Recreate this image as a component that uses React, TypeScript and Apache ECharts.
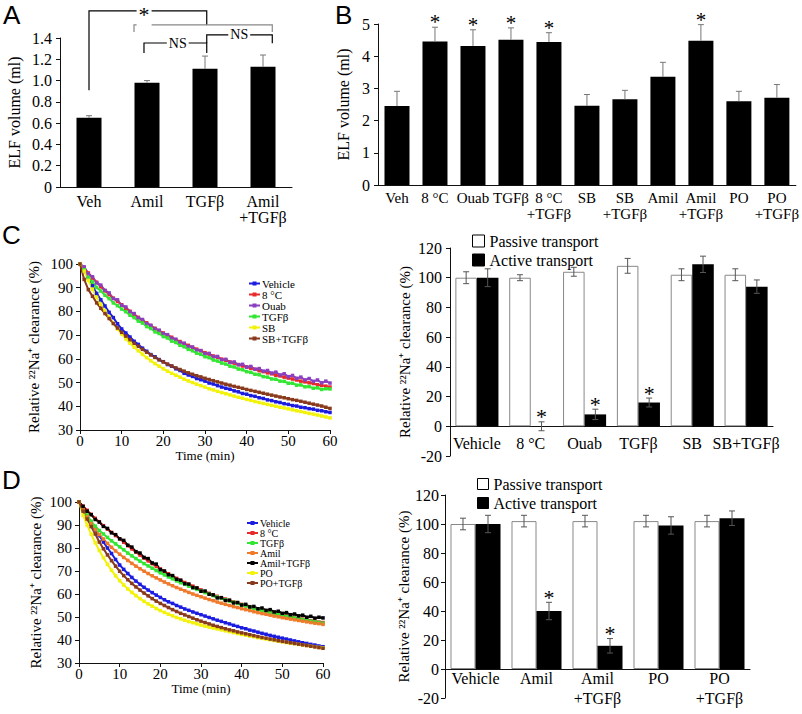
import React, { useEffect, useRef } from 'react';
import * as echarts from 'echarts';

const SERIF = 'Liberation Serif, Times New Roman, serif';
const SANS = 'Liberation Sans, Arial, sans-serif';

// ---------- Panel A ----------
const aCats = ['Veh', 'Amil', 'TGFβ', 'Amil\n+TGFβ'];
const aVals = [0.65, 0.98, 1.11, 1.13];
const aErr = [0.02, 0.02, 0.12, 0.11];
// significance brackets: x in category-index units, y in ml
const aBrackets = [
  { x1: 0, x2: 2.03, y: 1.654, l: 0.91, r: 1.523, label: '*', lx: 0.95, color: '#000' },
  { x1: 0.776, x2: 3.16, y: 1.523, l: 1.457, r: 1.457, label: '', lx: 0, color: '#888' },
  { x1: 0.948, x2: 2.03, y: 1.353, l: 1.26, r: 1.26, label: 'NS', lx: 1.53, color: '#000' },
  { x1: 2.03, x2: 3.16, y: 1.429, l: 1.353, r: 1.35, label: 'NS', lx: 2.59, color: '#000' },
];

// ---------- Panel B ----------
const bCats = ['Veh', '8 °C', 'Ouab', 'TGFβ', '8 °C\n+TGFβ', 'SB', 'SB\n+TGFβ', 'Amil', 'Amil\n+TGFβ', 'PO', 'PO\n+TGFβ'];
const bVals = [2.45, 4.46, 4.32, 4.51, 4.44, 2.46, 2.66, 3.36, 4.48, 2.6, 2.71];
const bErr = [0.46, 0.44, 0.5, 0.37, 0.29, 0.35, 0.28, 0.45, 0.5, 0.31, 0.41];
const bStar = [0, 1, 1, 1, 1, 0, 0, 0, 1, 0, 0];

// ---------- Panel C (time course) ----------
const tMin = Array.from({ length: 61 }, (_, i) => i);
const cVehicle = [
  100, 97.2, 94.1, 90.8, 87.6, 84.9, 82.3, 79.6, 77.4, 74.8,
  72.6, 70.9, 69.2, 67.4, 66.1, 64.5, 63.2, 61.8, 60.9, 59.7,
  58.8, 57.6, 56.9, 55.8, 55.1, 53.9, 53.2, 52.6, 51.7, 51.2,
  50.6, 49.8, 49.4, 48.7, 48.1, 47.6, 47.2, 46.5, 46.1, 45.4,
  45.1, 44.5, 44.2, 43.6, 43.3, 42.7, 42.4, 41.9, 41.6, 41.1,
  40.8, 40.3, 40.1, 39.6, 39.4, 39.0, 38.8, 38.3, 38.1, 37.7,
  37.4,
];
const cCold = [
  100, 98.4, 96.2, 94.1, 92.3, 90.4, 88.7, 87.1, 85.6, 84.2,
  82.8, 81.3, 80.1, 78.6, 77.5, 76.1, 75.2, 73.9, 72.9, 71.8,
  70.9, 69.9, 69.1, 68.0, 67.3, 66.4, 65.7, 64.8, 64.1, 63.4,
  62.6, 62.0, 61.2, 60.7, 59.9, 59.4, 58.7, 58.2, 57.6, 57.0,
  56.6, 56.0, 55.6, 55.0, 54.6, 54.1, 53.7, 53.1, 52.8, 52.3,
  51.9, 51.5, 51.1, 50.6, 50.3, 49.9, 49.6, 49.1, 48.8, 48.5,
  48.1,
];
const cOuab = [
  100, 98.8, 95.9, 94.6, 92.0, 91.1, 88.9, 87.8, 85.4, 84.9,
  82.6, 81.9, 79.8, 79.1, 77.2, 76.6, 74.8, 74.2, 72.6, 72.1,
  70.6, 70.2, 68.7, 68.3, 66.9, 66.6, 65.2, 65.0, 63.7, 63.5,
  62.2, 62.3, 60.9, 61.0, 59.6, 59.8, 58.5, 58.7, 57.5, 57.7,
  56.5, 56.8, 55.6, 55.9, 54.8, 55.1, 54.0, 54.4, 53.2, 53.7,
  52.5, 53.0, 51.8, 52.3, 51.1, 51.7, 50.5, 51.1, 49.9, 50.6,
  49.8,
];
const cTgf = [
  100, 97.6, 94.3, 92.4, 90.1, 88.6, 86.8, 85.4, 83.6, 82.4,
  81.0, 79.9, 78.4, 77.4, 75.9, 75.1, 73.6, 72.8, 71.4, 70.7,
  69.4, 68.8, 67.5, 66.9, 65.7, 65.1, 64.0, 63.4, 62.4, 61.9,
  60.9, 60.5, 59.5, 59.1, 58.2, 57.8, 56.9, 56.6, 55.7, 55.4,
  54.6, 54.3, 53.5, 53.3, 52.5, 52.3, 51.5, 51.4, 50.6, 50.5,
  49.7, 49.7, 48.9, 49.0, 48.2, 48.3, 47.6, 47.8, 47.1, 47.4,
  47.3,
];
const cSb = [
  100, 97.0, 93.1, 89.4, 86.0, 83.0, 80.2, 77.6, 75.0, 72.6,
  70.5, 68.4, 66.6, 64.9, 63.4, 61.9, 60.5, 59.2, 58.0, 56.9,
  55.8, 54.8, 53.9, 53.1, 52.3, 51.4, 50.7, 50.0, 49.3, 48.7,
  48.1, 47.4, 46.9, 46.3, 45.8, 45.3, 44.8, 44.3, 43.8, 43.4,
  42.9, 42.5, 42.0, 41.6, 41.2, 40.8, 40.4, 40.0, 39.6, 39.3,
  38.9, 38.5, 38.1, 37.8, 37.4, 37.0, 36.7, 36.3, 35.9, 35.5,
  35.1,
];
const cSbTgf = [
  100, 93.5, 89.2, 86.4, 83.6, 81.3, 79.1, 77.0, 74.9, 73.0,
  71.2, 69.6, 68.1, 66.6, 65.3, 64.0, 62.8, 61.7, 60.6, 59.6,
  58.7, 57.8, 57.0, 56.2, 55.5, 54.8, 54.1, 53.5, 52.9, 52.4,
  51.8, 51.3, 50.8, 50.3, 49.8, 49.3, 48.9, 48.4, 48.0, 47.6,
  47.1, 46.7, 46.3, 45.9, 45.5, 45.1, 44.7, 44.3, 43.9, 43.6,
  43.2, 42.8, 42.5, 42.1, 41.7, 41.3, 40.9, 40.5, 40.1, 39.6,
  39.1,
];

// ---------- Panel C (bars) ----------
const cCats = ['Vehicle', '8 °C', 'Ouab', 'TGFβ', 'SB', 'SB+TGFβ'];
const cPassive = [100, 100, 104, 108, 102, 102];
const cPassiveErr = [4, 2, 3, 5, 4, 4];
const cActive = [100, 0, 8, 16, 109, 94];
const cActiveErr = [6, 3, 3.5, 3, 5.5, 4.5];
const cStar = [0, 1, 1, 1, 0, 0];

// ---------- Panel D (time course) ----------
const dVehicle = [
  100, 96.9, 94.0, 90.8, 88.0, 85.4, 82.6, 80.0, 77.6, 75.0,
  72.6, 70.7, 68.9, 67.2, 65.6, 64.2, 62.9, 61.7, 60.6, 59.5,
  58.5, 57.5, 56.6, 55.9, 55.0, 54.3, 53.5, 52.9, 52.2, 51.6,
  51.0, 50.4, 49.8, 49.2, 48.6, 48.1, 47.5, 47.0, 46.4, 45.9,
  45.3, 44.9, 44.3, 43.9, 43.4, 42.9, 42.5, 42.0, 41.6, 41.2,
  40.8, 40.4, 40.0, 39.6, 39.2, 38.8, 38.5, 38.1, 37.8, 37.4,
  37.1,
];
const dCold = [
  100, 98.2, 96.4, 94.6, 92.9, 91.3, 89.7, 88.2, 86.8, 85.4,
  84.0, 82.5, 81.0, 79.6, 78.2, 76.9, 75.6, 74.4, 73.2, 72.0,
  70.9, 69.8, 68.8, 67.8, 66.8, 65.9, 65.0, 64.2, 63.4, 62.6,
  61.8, 61.0, 60.3, 59.6, 59.0, 58.4, 57.8, 57.2, 56.6, 56.1,
  55.5, 55.0, 54.5, 54.0, 53.5, 53.1, 52.6, 52.2, 51.7, 51.3,
  50.9, 50.5, 50.1, 49.8, 49.4, 49.1, 48.7, 48.4, 48.1, 47.8,
  47.6,
];
const dTgf = [
  100, 97.2, 94.3, 91.6, 89.5, 87.6, 86.1, 84.6, 83.1, 81.8,
  80.5, 79.2, 77.8, 76.6, 75.4, 74.3, 73.2, 72.2, 71.2, 70.2,
  69.2, 68.3, 67.4, 66.6, 65.7, 64.9, 64.2, 63.4, 62.7, 62.0,
  61.3, 60.6, 60.0, 59.3, 58.7, 58.1, 57.5, 56.9, 56.4, 55.9,
  55.3, 54.8, 54.3, 53.8, 53.3, 52.9, 52.4, 52.0, 51.5, 51.1,
  50.7, 50.3, 49.9, 49.6, 49.2, 48.9, 48.5, 48.2, 47.9, 47.6,
  47.3,
];
const dAmil = [
  100, 96.8, 93.5, 90.6, 88.0, 85.8, 83.9, 82.0, 80.3, 78.7,
  77.3, 75.9, 74.6, 73.3, 72.1, 71.0, 69.9, 68.9, 67.9, 67.0,
  66.1, 65.2, 64.4, 63.6, 62.8, 62.1, 61.4, 60.7, 60.0, 59.4,
  58.8, 58.2, 57.6, 57.1, 56.5, 56.0, 55.5, 55.0, 54.5, 54.1,
  53.6, 53.2, 52.8, 52.3, 51.9, 51.5, 51.2, 50.8, 50.4, 50.1,
  49.7, 49.4, 49.1, 48.8, 48.5, 48.2, 47.9, 47.6, 47.3, 47.1,
  46.8,
];
const dAmilTgf = [
  100, 98.1, 96.0, 94.5, 92.4, 91.3, 89.4, 88.5, 86.6, 85.8,
  84.0, 83.3, 81.2, 80.4, 78.4, 77.8, 75.9, 75.4, 73.5, 73.0,
  70.6, 70.0, 68.4, 68.0, 66.4, 66.0, 64.5, 64.3, 62.8, 62.6,
  61.2, 61.3, 59.9, 59.6, 58.3, 58.4, 57.2, 57.3, 56.1, 56.3,
  55.2, 55.5, 54.4, 54.6, 53.6, 53.9, 52.9, 53.2, 52.2, 52.5,
  51.6, 51.9, 51.0, 51.3, 50.5, 50.8, 49.9, 50.3, 49.5, 49.9,
  49.6,
];
const dPo = [
  100, 94.2, 90.0, 86.0, 82.3, 78.9, 75.8, 72.9, 70.3, 67.9,
  65.8, 63.9, 62.2, 60.7, 59.3, 58.0, 56.8, 55.7, 54.7, 53.7,
  52.8, 52.0, 51.2, 50.5, 49.8, 49.2, 48.6, 48.0, 47.5, 47.0,
  46.5, 46.0, 45.6, 45.2, 44.8, 44.4, 44.0, 43.6, 43.2, 42.8,
  42.4, 42.1, 41.7, 41.4, 41.0, 40.7, 40.4, 40.1, 39.8, 39.5,
  39.2, 38.9, 38.6, 38.4, 38.1, 37.8, 37.6, 37.3, 37.1, 36.8,
  36.6,
];
const dPoTgf = [
  100, 96.0, 92.6, 89.3, 86.1, 82.6, 79.7, 77.0, 74.5, 72.1,
  69.9, 68.0, 66.2, 64.6, 63.1, 61.7, 60.4, 59.2, 58.0, 56.9,
  55.9, 55.0, 54.1, 53.2, 52.4, 51.6, 50.9, 50.2, 49.5, 48.8,
  48.2, 47.6, 47.0, 46.4, 45.9, 45.4, 44.9, 44.4, 44.0, 43.5,
  43.1, 42.7, 42.3, 41.9, 41.5, 41.1, 40.8, 40.4, 40.1, 39.7,
  39.4, 39.1, 38.8, 38.5, 38.2, 37.9, 37.6, 37.3, 37.0, 36.7,
  36.4,
];

// ---------- Panel D (bars) ----------
const dCats = ['Vehicle', 'Amil', 'Amil\n+TGFβ', 'PO', 'PO\n+TGFβ'];
const dPassive = [100, 102, 102, 102, 102];
const dPassiveErr = [4, 4, 4, 4, 4];
const dActive = [100, 40, 16, 99, 104];
const dActiveErr = [6, 6, 5, 6, 5];
const dStar = [0, 1, 1, 0, 0];

const COL = {
  Vehicle: '#1c1ce0',
  Cold: '#e82a2a',
  Ouab: '#8a3fc0',
  Tgf: '#33e633',
  Yellow: '#f2f20a',
  Brown: '#8a3a1c',
  Amil: '#f07a2a',
  Black: '#000000',
};

const cLines = [
  { name: 'Vehicle', data: cVehicle, color: COL.Vehicle },
  { name: '8 °C', data: cCold, color: COL.Cold },
  { name: 'Ouab', data: cOuab, color: COL.Ouab },
  { name: 'TGFβ', data: cTgf, color: COL.Tgf },
  { name: 'SB', data: cSb, color: COL.Yellow },
  { name: 'SB+TGFβ', data: cSbTgf, color: COL.Brown },
];
const dLines = [
  { name: 'Vehicle', data: dVehicle, color: COL.Vehicle },
  { name: '8 °C', data: dCold, color: COL.Cold },
  { name: 'TGFβ', data: dTgf, color: COL.Tgf },
  { name: 'Amil', data: dAmil, color: COL.Amil },
  { name: 'Amil+TGFβ', data: dAmilTgf, color: COL.Black },
  { name: 'PO', data: dPo, color: COL.Yellow },
  { name: 'PO+TGFβ', data: dPoTgf, color: COL.Brown },
];

function makeErr(offset: number, cap: number, color: string, oneSided: boolean, starSize: number) {
  return function (_params: any, api: any) {
    const i = api.value(0);
    const lo = api.value(1);
    const hi = api.value(2);
    const star = api.value(3);
    const band = api.size([1, 0])[0];
    const top = api.coord([i, hi]);
    const bot = api.coord([i, lo]);
    const x = top[0] + offset * band;
    const st = { stroke: color, lineWidth: 1 };
    const children: any[] = [
      { type: 'line', shape: { x1: x, y1: bot[1], x2: x, y2: top[1] }, style: st },
      { type: 'line', shape: { x1: x - cap, y1: top[1], x2: x + cap, y2: top[1] }, style: st },
    ];
    if (!oneSided) {
      children.push({ type: 'line', shape: { x1: x - cap, y1: bot[1], x2: x + cap, y2: bot[1] }, style: st });
    }
    if (star) {
      children.push({
        type: 'text',
        x,
        y: top[1] - 5,
        style: { text: '*', fontSize: starSize, fontFamily: SERIF, fill: '#000', align: 'center', verticalAlign: 'middle' },
      });
    }
    return { type: 'group', children };
  };
}

const txt = (size: number, extra: any = {}) => ({ color: '#000', fontFamily: SERIF, fontSize: size, ...extra });
const axLine = { show: true, onZero: false, lineStyle: { color: '#111', width: 1 } };

// bar panels: visible y-axis spans -20..120; bars live in a grid spanning 0..120 on the same scale
const CR = { left: 450, top: 248, width: 323, height: 208 };
const DR = { left: 445, top: 495, width: 305, height: 203 };
const barGrid = (g: any) => ({ left: g.left, top: g.top, width: g.width, height: (g.height * 120) / 140 });

function buildOption() {
  const xAxis: any[] = [
    { type: 'category', gridIndex: 0, data: aCats, axisLine: axLine, axisTick: { show: false },
      axisLabel: txt(16, { margin: 6, lineHeight: 16, interval: 0 }) },
    { type: 'category', gridIndex: 1, data: bCats, axisLine: axLine, axisTick: { show: false },
      axisLabel: txt(15, { margin: 5, lineHeight: 16, interval: 0 }) },
    { type: 'value', gridIndex: 2, min: 0, max: 60, interval: 10, axisLine: axLine,
      axisTick: { show: true, length: 4, lineStyle: { color: '#111' } }, splitLine: { show: false },
      axisLabel: txt(15, { margin: 3 }), name: 'Time (min)', nameLocation: 'middle', nameGap: 12,
      nameTextStyle: txt(13) },
    { type: 'category', gridIndex: 3, data: cCats, axisLine: axLine, axisTick: { show: false },
      axisLabel: txt(16, { margin: 9, interval: 0 }) },
    { type: 'value', gridIndex: 4, min: 0, max: 60, interval: 10, axisLine: axLine,
      axisTick: { show: true, length: 4, lineStyle: { color: '#111' } }, splitLine: { show: false },
      axisLabel: txt(15, { margin: 3 }), name: 'Time (min)', nameLocation: 'middle', nameGap: 12,
      nameTextStyle: txt(13) },
    { type: 'category', gridIndex: 5, data: dCats, axisLine: axLine, axisTick: { show: false },
      axisLabel: txt(16, { margin: -1, lineHeight: 20, interval: 0 }) },
    { type: 'value', gridIndex: 6, min: 0, max: 1, show: false },
    { type: 'value', gridIndex: 7, min: 0, max: 1, show: false },
  ];
  const yTick = { show: true, length: 4, lineStyle: { color: '#111' } };
  const naLabel = 'Relative ²²Na⁺ clearance (%)';
  const yAxis: any[] = [
    { type: 'value', gridIndex: 0, min: 0, max: 1.4, interval: 0.2, axisLine: axLine, axisTick: yTick,
      splitLine: { show: false }, axisLabel: txt(16, { margin: 8, formatter: (v: number) => (v === 0 ? '0' : v.toFixed(1)) }),
      name: 'ELF volume (ml)', nameLocation: 'middle', nameGap: 38, nameTextStyle: txt(16) },
    { type: 'value', gridIndex: 1, min: 0, max: 5, interval: 1, axisLine: axLine, axisTick: yTick,
      splitLine: { show: false }, axisLabel: txt(16, { margin: 8 }),
      name: 'ELF volume (ml)', nameLocation: 'middle', nameGap: 26, nameTextStyle: txt(16) },
    { type: 'value', gridIndex: 2, min: 30, max: 100, interval: 10, axisLine: axLine, axisTick: yTick,
      splitLine: { show: false }, axisLabel: txt(15, { margin: 7 }),
      name: naLabel, nameLocation: 'middle', nameGap: 39, nameTextStyle: txt(15) },
    { type: 'value', gridIndex: 3, min: 0, max: 120, show: false, splitLine: { show: false } },
    { type: 'value', gridIndex: 4, min: 30, max: 100, interval: 10, axisLine: axLine, axisTick: yTick,
      splitLine: { show: false }, axisLabel: txt(15, { margin: 7 }),
      name: naLabel, nameLocation: 'middle', nameGap: 36, nameTextStyle: txt(15) },
    { type: 'value', gridIndex: 5, min: 0, max: 120, show: false, splitLine: { show: false } },
    { type: 'value', gridIndex: 6, min: -20, max: 120, interval: 20, axisLine: axLine, axisTick: yTick,
      splitLine: { show: false }, axisLabel: txt(16, { margin: 8 }),
      name: naLabel, nameLocation: 'middle', nameGap: 38, nameTextStyle: txt(15) },
    { type: 'value', gridIndex: 7, min: -20, max: 120, interval: 20, axisLine: axLine, axisTick: yTick,
      splitLine: { show: false }, axisLabel: txt(16, { margin: 6 }),
      name: naLabel, nameLocation: 'middle', nameGap: 32, nameTextStyle: txt(15) },
  ];

  const series: any[] = [];
  // A
  series.push({ type: 'bar', xAxisIndex: 0, yAxisIndex: 0, data: aVals, barWidth: 25, itemStyle: { color: '#000' }, z: 2 });
  series.push({ type: 'custom', xAxisIndex: 0, yAxisIndex: 0, z: 3, encode: { x: 0, y: [1, 2] },
    renderItem: makeErr(0, 3, '#777', true, 20),
    data: aVals.map((v, i) => [i, v, v + aErr[i], 0]) });
  // B
  series.push({ type: 'bar', xAxisIndex: 1, yAxisIndex: 1, data: bVals, barWidth: 25, itemStyle: { color: '#000' }, z: 2 });
  series.push({ type: 'custom', xAxisIndex: 1, yAxisIndex: 1, z: 3, encode: { x: 0, y: [1, 2] },
    renderItem: makeErr(0, 3, '#777', true, 21),
    data: bVals.map((v, i) => [i, v, v + bErr[i], bStar[i]]) });
  // C lines
  cLines.forEach((s) => {
    series.push({ type: 'line', name: s.name, xAxisIndex: 2, yAxisIndex: 2, data: s.data.map((v, i) => [tMin[i], v]),
      symbol: 'rect', symbolSize: 3.5, showSymbol: true, lineStyle: { width: 2, color: s.color },
      itemStyle: { color: s.color }, z: 2 });
  });
  // C bars
  series.push({ type: 'bar', name: 'Passive transport', xAxisIndex: 3, yAxisIndex: 3, data: cPassive, barWidth: '40%', barGap: '0%',
    itemStyle: { color: '#fff', borderColor: '#888', borderWidth: 1 }, z: 2 });
  series.push({ type: 'bar', name: 'Active transport', xAxisIndex: 3, yAxisIndex: 3, data: cActive, barWidth: '40%', barGap: '0%',
    itemStyle: { color: '#000' }, z: 2 });
  series.push({ type: 'custom', xAxisIndex: 3, yAxisIndex: 3, z: 3, encode: { x: 0, y: [1, 2] }, clip: false,
    renderItem: makeErr(-0.2, 3, '#555', false, 22),
    data: cPassive.map((v, i) => [i, v - cPassiveErr[i], v + cPassiveErr[i], 0]) });
  series.push({ type: 'custom', xAxisIndex: 3, yAxisIndex: 3, z: 3, encode: { x: 0, y: [1, 2] }, clip: false,
    renderItem: makeErr(0.2, 3, '#555', false, 22),
    data: cActive.map((v, i) => [i, v - cActiveErr[i], v + cActiveErr[i], cStar[i]]) });
  // D lines
  dLines.forEach((s) => {
    series.push({ type: 'line', name: s.name, xAxisIndex: 4, yAxisIndex: 4, data: s.data.map((v, i) => [tMin[i], v]),
      symbol: 'rect', symbolSize: 3.5, showSymbol: true, lineStyle: { width: 2, color: s.color },
      itemStyle: { color: s.color }, z: 2 });
  });
  // D bars
  series.push({ type: 'bar', name: 'Passive transport', xAxisIndex: 5, yAxisIndex: 5, data: dPassive, barWidth: '41%', barGap: '0%',
    itemStyle: { color: '#fff', borderColor: '#888', borderWidth: 1 }, z: 2 });
  series.push({ type: 'bar', name: 'Active transport', xAxisIndex: 5, yAxisIndex: 5, data: dActive, barWidth: '41%', barGap: '0%',
    itemStyle: { color: '#000' }, z: 2 });
  series.push({ type: 'custom', xAxisIndex: 5, yAxisIndex: 5, z: 3, encode: { x: 0, y: [1, 2] }, clip: false,
    renderItem: makeErr(-0.205, 3, '#555', false, 22),
    data: dPassive.map((v, i) => [i, v - dPassiveErr[i], v + dPassiveErr[i], 0]) });
  series.push({ type: 'custom', xAxisIndex: 5, yAxisIndex: 5, z: 3, encode: { x: 0, y: [1, 2] }, clip: false,
    renderItem: makeErr(0.205, 3, '#555', false, 22),
    data: dActive.map((v, i) => [i, v - dActiveErr[i], v + dActiveErr[i], dStar[i]]) });

  const lineLegend = (names: string[], left: number, top: number, fs: number, lh: number) => ({
    data: names, left, top, orient: 'vertical', itemWidth: 11, itemHeight: 5, itemGap: 0, selectedMode: false,
    textStyle: txt(fs, { lineHeight: lh, padding: [0, 0, 0, -3] }),
  });
  const barLegend = (left: number, top: number, size: number, lh: number) => ({
    data: ['Passive transport', 'Active transport'], left, top, orient: 'vertical', icon: 'rect',
    itemWidth: size, itemHeight: size, itemGap: 3, selectedMode: false,
    itemStyle: { borderColor: '#000', borderWidth: 1 },
    textStyle: txt(16, { lineHeight: lh }),
  });

  return {
    animation: false,
    backgroundColor: '#fff',
    grid: [
      { left: 60, top: 38, width: 232, height: 149 },
      { left: 378, top: 24, width: 420, height: 161 },
      { left: 80, top: 264, width: 250, height: 166 },
      barGrid(CR),
      { left: 79, top: 502, width: 244, height: 161 },
      barGrid(DR),
      CR,
      DR,
    ],
    xAxis,
    yAxis,
    legend: [
      lineLegend(cLines.map((s) => s.name), 243, 273, 11, 11),
      barLegend(467, 228, 12, 15),
      lineLegend(dLines.map((s) => s.name), 241, 513, 10, 10),
      barLegend(472, 471, 11, 16),
    ],
    series,
  };
}

export default function App() {
  const ref = useRef<HTMLDivElement>(null);
  useEffect(() => {
    document.body.style.margin = '0';
    const chart = echarts.init(ref.current as HTMLDivElement, null, { renderer: 'svg' });
    chart.setOption(buildOption() as any);

    const px = (f: number, v: number) => {
      const p0 = chart.convertToPixel({ gridIndex: 0 } as any, [0, v]) as number[];
      const p1 = chart.convertToPixel({ gridIndex: 0 } as any, [1, v]) as number[];
      return [p0[0] + f * (p1[0] - p0[0]), p0[1]];
    };
    const graphic: any[] = [];
    aBrackets.forEach((b) => {
      const pts = [px(b.x1, b.l), px(b.x1, b.y), px(b.x2, b.y), px(b.x2, b.r)];
      graphic.push({ type: 'polyline', shape: { points: pts }, style: { stroke: b.color, lineWidth: 1.2, fill: 'none' }, z: 10 });
      if (b.label) {
        const p = px(b.lx, b.y);
        const isStar = b.label === '*';
        graphic.push({
          type: 'text', x: p[0], y: p[1] + (isStar ? 4 : 0), z: 11,
          style: {
            text: b.label, fontFamily: SERIF, fontSize: isStar ? 22 : 14, fill: '#000',
            align: 'center', verticalAlign: 'middle', backgroundColor: '#fff', padding: [0, 2],
          },
        });
      }
    });
    const letter = (t: string, x: number, y: number) => ({
      type: 'text', x, y, z: 12,
      style: { text: t, fontFamily: SANS, fontSize: 26, fill: '#000', align: 'left', verticalAlign: 'top' },
    });
    graphic.push(letter('A', 3, 2), letter('B', 335, 2), letter('C', 2, 222), letter('D', 2, 467));
    chart.setOption({ graphic });

    return () => chart.dispose();
  }, []);
  return <div ref={ref} style={{ width: 802, height: 714 }} />;
}
